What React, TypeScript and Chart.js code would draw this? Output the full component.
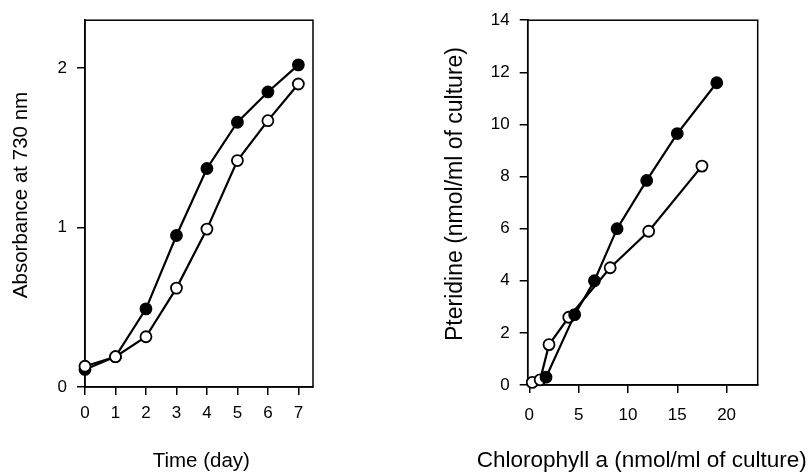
import React, { useEffect, useRef } from "react";
import { Chart, registerables } from "chart.js";

Chart.register(...registerables);

// ---------- Data: left panel (growth) ----------
const days = [0, 1, 2, 3, 4, 5, 6, 7];
const absFilled = [0.11, 0.19, 0.49, 0.95, 1.37, 1.66, 1.85, 2.02];
const absOpen = [0.13, 0.19, 0.315, 0.62, 0.99, 1.42, 1.67, 1.9];
const dayTicks = [0, 1, 2, 3, 4, 5, 6, 7];
const absTicks = [0, 1, 2];

// ---------- Data: right panel (pteridine vs chlorophyll) ----------
const chlFilled = [1.7, 4.6, 6.6, 8.9, 11.9, 15.0, 19.0];
const pteFilled = [0.3, 2.7, 4.0, 6.0, 7.85, 9.65, 11.6];
const chlOpen = [0.3, 1.1, 2.0, 4.0, 8.2, 12.1, 17.5];
const pteOpen = [0.1, 0.2, 1.55, 2.6, 4.5, 5.9, 8.4];
const chlTicks = [0, 5, 10, 15, 20];
const pteTicks = [0, 2, 4, 6, 8, 10, 12, 14];

const INK = "#000";
const FONT = "'Liberation Sans', Arial, Helvetica, sans-serif";

Chart.defaults.font.family = FONT;
Chart.defaults.color = INK;

const framePlugin = {
  id: "frame",
  beforeDatasetsDraw(chart: any) {
    const { ctx, chartArea } = chart;
    const { left, top, right, bottom } = chartArea;
    ctx.save();
    ctx.strokeStyle = INK;
    ctx.lineWidth = 1.5;
    ctx.strokeRect(left, top, right - left, bottom - top);
    ctx.restore();
  },
};

const titlePlugin = {
  id: "axisTitles",
  afterDraw(chart: any, _args: any, opts: any) {
    const items = (opts && opts.items) || [];
    const { ctx } = chart;
    for (const it of items) {
      ctx.save();
      ctx.fillStyle = INK;
      ctx.font = `${it.size}px ${FONT}`;
      ctx.textAlign = "center";
      ctx.textBaseline = "alphabetic";
      ctx.translate(it.x, it.y);
      if (it.rotate) ctx.rotate(-Math.PI / 2);
      ctx.fillText(it.text, 0, 0);
      ctx.restore();
    }
  },
};

function series(xs: number[], ys: number[], filled: boolean) {
  return {
    data: xs.map((x, i) => ({ x, y: ys[i] })),
    showLine: true,
    borderColor: INK,
    borderWidth: 2.2,
    tension: 0,
    pointRadius: 5.5,
    pointHoverRadius: 5.5,
    pointBorderWidth: 1.8,
    pointBorderColor: INK,
    pointBackgroundColor: filled ? INK : "#fff",
    clip: false as any,
  };
}

function buildConfig(spec: any): any {
  return {
    type: "scatter",
    data: { datasets: spec.datasets },
    plugins: [framePlugin, titlePlugin],
    options: {
      animation: false,
      responsive: false,
      maintainAspectRatio: false,
      events: [],
      layout: { padding: spec.padding },
      plugins: {
        legend: { display: false },
        tooltip: { enabled: false },
        axisTitles: { items: spec.titles },
      },
      scales: {
        x: {
          type: "linear",
          min: spec.xMin,
          max: spec.xMax,
          afterBuildTicks: (s: any) => {
            s.ticks = spec.xTicks.map((v: number) => ({ value: v }));
          },
          afterFit: (s: any) => {
            s.height = spec.xHeight;
          },
          grid: {
            display: true,
            drawOnChartArea: false,
            drawTicks: true,
            tickLength: 8,
            color: INK,
            lineWidth: 1.5,
          },
          border: { display: true, color: INK, width: 1.5 },
          ticks: {
            color: INK,
            font: { size: 17 },
            padding: spec.xLabelPad,
            maxRotation: 0,
            autoSkip: false,
          },
          title: { display: false },
        },
        y: {
          type: "linear",
          position: "left",
          min: spec.yMin,
          max: spec.yMax,
          afterBuildTicks: (s: any) => {
            s.ticks = spec.yTicks.map((v: number) => ({ value: v }));
          },
          afterFit: (s: any) => {
            s.width = spec.yWidth;
          },
          grid: {
            display: true,
            drawOnChartArea: false,
            drawTicks: true,
            tickLength: 8,
            color: INK,
            lineWidth: 1.5,
          },
          border: { display: true, color: INK, width: 1.5 },
          ticks: {
            color: INK,
            font: { size: 17 },
            padding: 10,
            autoSkip: false,
          },
          title: { display: false },
        },
      },
    },
  };
}

export default function App() {
  const leftRef = useRef<HTMLCanvasElement>(null);
  const rightRef = useRef<HTMLCanvasElement>(null);

  useEffect(() => {
    const left = new Chart(
      leftRef.current as HTMLCanvasElement,
      buildConfig({
        padding: { left: 0, top: 17.5, right: 97, bottom: 0 },
        yWidth: 85,
        xHeight: 87,
        xMin: 0,
        xMax: 7.48,
        yMin: 0,
        yMax: 2.3,
        xTicks: dayTicks,
        yTicks: absTicks,
        xLabelPad: 8,
        datasets: [series(days, absOpen, false), series(days, absFilled, true)],
        titles: [
          { text: "Absorbance at 730 nm", x: 26.5, y: 195, rotate: true, size: 20.5 },
          { text: "Time (day)", x: 201.3, y: 466.7, rotate: false, size: 20.5 },
        ],
      })
    );
    const right = new Chart(
      rightRef.current as HTMLCanvasElement,
      buildConfig({
        padding: { left: 0, top: 18.3, right: 54.3, bottom: 0 },
        yWidth: 117.7,
        xHeight: 89,
        xMin: -0.16,
        xMax: 23.15,
        yMin: 0,
        yMax: 14,
        xTicks: chlTicks,
        yTicks: pteTicks,
        xLabelPad: 12,
        datasets: [series(chlFilled, pteFilled, true), series(chlOpen, pteOpen, false)],
        titles: [
          { text: "Pteridine (nmol/ml of culture)", x: 52, y: 194, rotate: true, size: 23 },
          { text: "Chlorophyll a (nmol/ml of culture)", x: 231.7, y: 467.3, rotate: false, size: 22.5 },
        ],
      })
    );
    return () => {
      left.destroy();
      right.destroy();
    };
  }, []);

  return (
    <div
      style={{
        position: "fixed",
        left: 0,
        top: 0,
        width: 812,
        height: 474,
        background: "#fff",
        overflow: "hidden",
      }}
    >
      <canvas
        ref={leftRef}
        width={410}
        height={474}
        style={{ position: "absolute", left: 0, top: 0, width: 410, height: 474 }}
      />
      <canvas
        ref={rightRef}
        width={402}
        height={474}
        style={{ position: "absolute", left: 410, top: 0, width: 402, height: 474 }}
      />
    </div>
  );
}
